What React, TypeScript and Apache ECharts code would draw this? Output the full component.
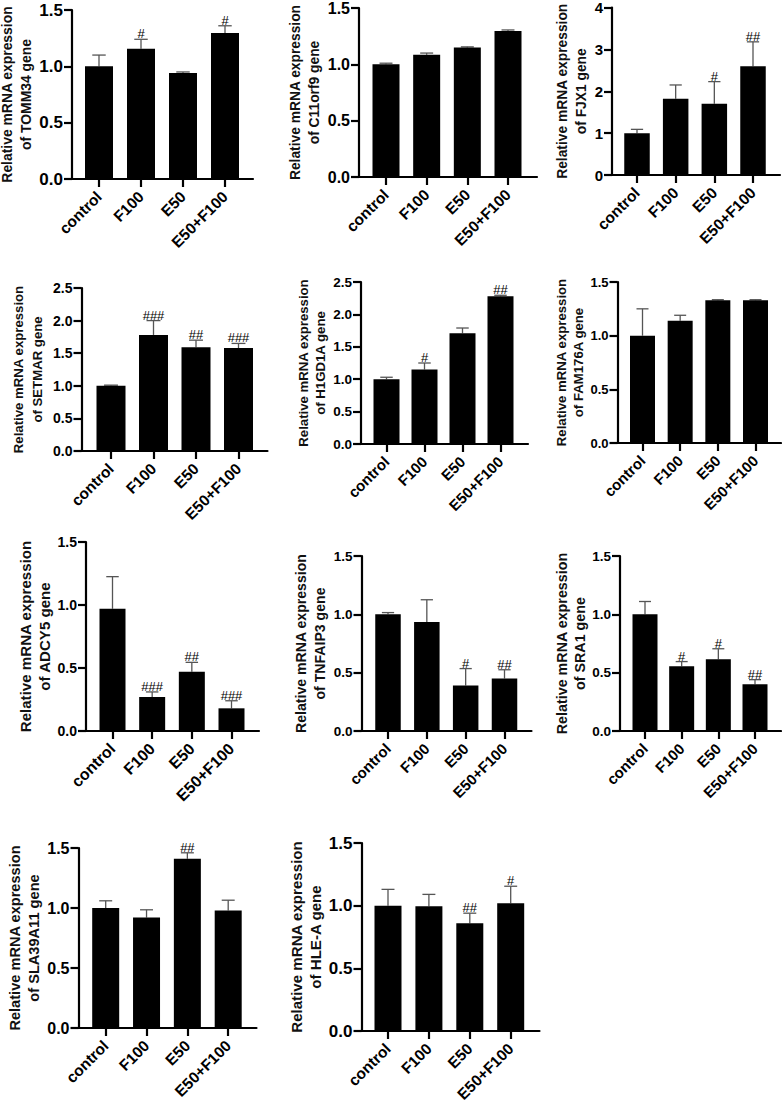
import { useEffect, useRef } from 'react'
import * as echarts from 'echarts'

const groups = ['control', 'F100', 'E50', 'E50+F100']

// bar height, top of the error bar, significance mark
const tomm34 = [1.0, 1.155, 0.94, 1.295]
const tomm34Err = [1.1, 1.24, 0.95, 1.36]
const tomm34Marks = ['', '#', '', '#']
const c11orf9 = [1.0, 1.085, 1.15, 1.295]
const c11orf9Err = [1.01, 1.1, 1.155, 1.305]
const c11orf9Marks = ['', '', '', '']
const fjx1 = [1.0, 1.82, 1.7, 2.6]
const fjx1Err = [1.09, 2.15, 2.23, 3.18]
const fjx1Marks = ['', '', '#', '##']
const setmar = [1.0, 1.78, 1.59, 1.58]
const setmarErr = [1.01, 2.0, 1.7, 1.65]
const setmarMarks = ['', '###', '##', '###']
const h1gd1a = [1.0, 1.15, 1.71, 2.28]
const h1gd1aErr = [1.03, 1.25, 1.79, 2.295]
const h1gd1aMarks = ['', '#', '', '##']
const fam176a = [1.0, 1.14, 1.33, 1.33]
const fam176aErr = [1.25, 1.19, 1.335, 1.335]
const fam176aMarks = ['', '', '', '']
const adcy5 = [0.97, 0.27, 0.47, 0.18]
const adcy5Err = [1.225, 0.31, 0.545, 0.24]
const adcy5Marks = ['', '###', '##', '###']
const tnfaip3 = [1.0, 0.935, 0.39, 0.45]
const tnfaip3Err = [1.015, 1.125, 0.535, 0.525]
const tnfaip3Marks = ['', '', '#', '##']
const sra1 = [1.0, 0.555, 0.615, 0.4]
const sra1Err = [1.11, 0.595, 0.705, 0.44]
const sra1Marks = ['', '#', '#', '##']
const sla39a11 = [1.0, 0.92, 1.41, 0.98]
const sla39a11Err = [1.06, 0.985, 1.46, 1.065]
const sla39a11Marks = ['', '', '##', '']
const hlea = [1.0, 0.995, 0.86, 1.02]
const hleaErr = [1.13, 1.09, 0.94, 1.155]
const hleaMarks = ['', '', '##', '#']

const panels = [
  { gene: 'TOMM34', vals: tomm34, err: tomm34Err, marks: tomm34Marks, max: 1.5, step: 0.5, digits: 1, box: [72, 10, 253, 179], ticks: [99, 225], barW: 28, font: 17, xFont: 15.5, nameFont: 13.9, lineH: 19, gap: 37 },
  { gene: 'C11orf9', vals: c11orf9, err: c11orf9Err, marks: c11orf9Marks, max: 1.5, step: 0.5, digits: 1, box: [359, 8, 537, 177], ticks: [386, 508], barW: 27, font: 16, xFont: 15.5, nameFont: 13.8, lineH: 19, gap: 34 },
  { gene: 'FJX1', vals: fjx1, err: fjx1Err, marks: fjx1Marks, max: 4, step: 1, digits: 0, box: [612, 7.5, 780, 175], ticks: [637, 753], barW: 25.5, font: 15, xFont: 15.5, nameFont: 13.8, lineH: 19, gap: 20 },
  { gene: 'SETMAR', vals: setmar, err: setmarErr, marks: setmarMarks, max: 2.5, step: 0.5, digits: 1, box: [81.5, 288, 267.5, 451], ticks: [111, 238.5], barW: 29, font: 14, xFont: 15.5, nameFont: 13.2, lineH: 19, gap: 35 },
  { gene: 'H1GD1A', vals: h1gd1a, err: h1gd1aErr, marks: h1gd1aMarks, max: 2.5, step: 0.5, digits: 1, box: [361, 282, 528, 444], ticks: [386.5, 500.5], barW: 26, font: 13.5, xFont: 15, nameFont: 13.2, lineH: 17.5, gap: 29 },
  { gene: 'FAM176A', vals: fam176a, err: fam176aErr, marks: fam176aMarks, max: 1.5, step: 0.5, digits: 1, box: [617.5, 282, 781, 443], ticks: [642.5, 755.5], barW: 25, font: 13, xFont: 15, nameFont: 13.2, lineH: 16.5, gap: 31 },
  { gene: 'ADCY5', vals: adcy5, err: adcy5Err, marks: adcy5Marks, max: 1.5, step: 0.5, digits: 1, box: [86, 542, 259, 731], ticks: [112.5, 231.5], barW: 26, font: 14, xFont: 16, nameFont: 15.1, lineH: 19, gap: 32 },
  { gene: 'TNFAIP3', vals: tnfaip3, err: tnfaip3Err, marks: tnfaip3Marks, max: 1.5, step: 0.5, digits: 1, box: [361.5, 556, 531.5, 731], ticks: [388, 504.5], barW: 25.5, font: 13.5, xFont: 15, nameFont: 14.1, lineH: 19, gap: 29.5 },
  { gene: 'SRA1', vals: sra1, err: sra1Err, marks: sra1Marks, max: 1.5, step: 0.5, digits: 1, box: [620, 556, 781, 731], ticks: [645, 755], barW: 25, font: 13.5, xFont: 15, nameFont: 14.3, lineH: 17.5, gap: 28 },
  { gene: 'SLA39A11', vals: sla39a11, err: sla39a11Err, marks: sla39a11Marks, max: 1.5, step: 0.5, digits: 1, box: [78.5, 848, 256.5, 1028], ticks: [105.7, 228.2], barW: 27, font: 16, xFont: 15.5, nameFont: 14.6, lineH: 19, gap: 34 },
  { gene: 'HLE-A', vals: hlea, err: hleaErr, marks: hleaMarks, max: 1.5, step: 0.5, digits: 1, box: [361.5, 843, 539.5, 1031], ticks: [388, 510.7], barW: 27, font: 17, xFont: 15.5, nameFont: 15.1, lineH: 19, gap: 35 },
]

const FONT = '"Liberation Sans", Arial, sans-serif'

function buildOption() {
  const grid: any[] = []
  const xAxis: any[] = []
  const yAxis: any[] = []
  const series: any[] = []

  panels.forEach((p, n) => {
    const [left, top, right, bottom] = p.box
    const unit = (p.ticks[1] - p.ticks[0]) / 3
    grid.push({ left, top, width: right - left, height: bottom - top, outerBoundsMode: 'none' })
    xAxis.push({
      type: 'value',
      gridIndex: n,
      min: (left - p.ticks[0]) / unit,
      max: 3 + (right - p.ticks[1]) / unit,
      splitLine: { show: false },
      axisLine: { show: true, onZero: false, lineStyle: { color: '#000', width: 2.2 } },
      axisTick: { show: true, length: 8, customValues: [0, 1, 2, 3], lineStyle: { color: '#000', width: 2.2 } },
      axisLabel: {
        customValues: [0, 1, 2, 3],
        formatter: (v: number) => groups[Math.round(v)],
        rotate: 45,
        margin: 15,
        color: '#000',
        fontFamily: FONT,
        fontWeight: 'bold',
        fontSize: p.xFont,
      },
    })
    yAxis.push({
      type: 'value',
      gridIndex: n,
      min: 0,
      max: p.max,
      interval: p.step,
      splitLine: { show: false },
      axisLine: { show: true, onZero: false, lineStyle: { color: '#000', width: 2.2 } },
      axisTick: { show: true, length: 8, lineStyle: { color: '#000', width: 2.2 } },
      axisLabel: {
        formatter: (v: number) => v.toFixed(p.digits),
        margin: 9,
        color: '#000',
        fontFamily: FONT,
        fontWeight: 'bold',
        fontSize: p.font,
      },
      name: `Relative mRNA expression\nof ${p.gene} gene`,
      nameLocation: 'middle',
      nameGap: p.gap,
      nameTextStyle: { color: '#111', fontFamily: FONT, fontWeight: 'bold', fontSize: p.nameFont, lineHeight: p.lineH },
    })
    series.push({
      type: 'custom',
      xAxisIndex: n,
      yAxisIndex: n,
      clip: false,
      z: 3,
      data: p.vals.map((v, i) => [i, v, p.err[i]]),
      renderItem: (params: any, api: any) => {
        const foot = api.coord([api.value(0), 0])
        const base = api.coord([api.value(0), api.value(1)])
        const end = api.coord([api.value(0), api.value(2)])
        const capHalf = p.barW * 0.24
        const lineStyle = { stroke: '#555', lineWidth: 1.3 }
        return {
          type: 'group',
          children: [
            { type: 'line', shape: { x1: base[0], y1: base[1], x2: end[0], y2: end[1] }, style: lineStyle },
            { type: 'line', shape: { x1: end[0] - capHalf, y1: end[1], x2: end[0] + capHalf, y2: end[1] }, style: lineStyle },
            { type: 'rect', shape: { x: base[0] - p.barW / 2, y: base[1], width: p.barW, height: foot[1] - base[1] }, style: { fill: '#000' } },
            {
              type: 'text',
              x: end[0],
              y: end[1] + 1,
              style: {
                text: p.marks[params.dataIndex],
                fill: '#000',
                fontFamily: FONT,
                fontSize: 13,
                textAlign: 'center',
                textVerticalAlign: 'bottom',
              },
            },
          ],
        }
      },
    })
  })

  return { animation: false, backgroundColor: '#fff', grid, xAxis, yAxis, series }
}

export default function App() {
  const chartRef = useRef<HTMLDivElement>(null)

  useEffect(() => {
    if (!chartRef.current) return
    const chart = echarts.init(chartRef.current, undefined, { renderer: 'svg' })
    chart.setOption(buildOption())
    return () => chart.dispose()
  }, [])

  return <div ref={chartRef} style={{ position: 'absolute', left: 0, top: 0, width: 782, height: 1105 }}></div>
}
